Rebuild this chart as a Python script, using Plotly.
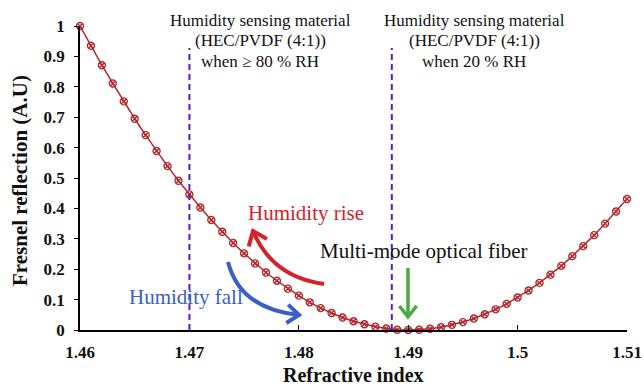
import math
import plotly.graph_objects as go

# ---- data ----
refractive_index = [round(1.460 + 0.001 * i, 3) for i in range(51)]
fresnel_reflection = [
    1.000, 0.935, 0.871, 0.811, 0.752, 0.695, 0.641, 0.589, 0.539, 0.491,
    0.446, 0.403, 0.362, 0.323, 0.286, 0.252, 0.219, 0.189, 0.162, 0.136,
    0.113, 0.091, 0.072, 0.056, 0.041, 0.029, 0.019, 0.011, 0.005, 0.001,
    0.000, 0.001, 0.004, 0.009, 0.017, 0.026, 0.038, 0.052, 0.068, 0.086,
    0.107, 0.130, 0.155, 0.182, 0.211, 0.243, 0.276, 0.312, 0.350, 0.390,
    0.431,
]
x_ticks = [1.46, 1.47, 1.48, 1.49, 1.5, 1.51]
y_ticks = [0, 0.1, 0.2, 0.3, 0.4, 0.5, 0.6, 0.7, 0.8, 0.9, 1]
marker_lines_x = [1.47, 1.4885]

# ---- layout geometry (pixels) ----
W, H = 644, 386
ML, MR, MT, MB = 80, 17, 26, 56
PW, PH = W - ML - MR, H - MT - MB


def px(x):
    return (x - ML) / PW


def py(y):
    return (H - MB - y) / PH


SERIF = "Liberation Serif"

fig = go.Figure()
fig.add_trace(go.Scatter(
    x=refractive_index, y=fresnel_reflection, mode="lines+markers",
    line=dict(color="#B3282D", width=1.5),
    marker=dict(symbol="circle-x-open", size=7, color="#B3282D",
                line=dict(width=1.4, color="#B3282D")),
    cliponaxis=False, showlegend=False,
))

shapes = []
for xv in marker_lines_x:
    shapes.append(dict(type="line", xref="x", yref="paper", x0=xv, x1=xv,
                       y0=0, y1=py(48), line=dict(color="#5A1FBF", width=2, dash="6px,4px")))


def curved_arrow(p0, c, tip, color, arm=15, width=4):
    dx, dy = tip[0] - c[0], tip[1] - c[1]
    L = math.hypot(dx, dy)
    bx, by = -dx / L, -dy / L
    ang = math.radians(38)
    arms = []
    for s in (1, -1):
        ca, sa = math.cos(s * ang), math.sin(s * ang)
        ax = bx * ca - by * sa
        ay = bx * sa + by * ca
        arms.append((tip[0] + ax * arm, tip[1] + ay * arm))
    body = "M {:.4f} {:.4f} Q {:.4f} {:.4f} {:.4f} {:.4f}".format(
        px(p0[0]), py(p0[1]), px(c[0]), py(c[1]), px(tip[0]), py(tip[1]))
    head = "M {:.4f} {:.4f} L {:.4f} {:.4f} L {:.4f} {:.4f}".format(
        px(arms[0][0]), py(arms[0][1]), px(tip[0]), py(tip[1]), px(arms[1][0]), py(arms[1][1]))
    return [dict(type="path", xref="paper", yref="paper", path=body, line=dict(color=color, width=width)),
            dict(type="path", xref="paper", yref="paper", path=head, line=dict(color=color, width=width))]


shapes += curved_arrow((324, 284), (272, 277), (253, 231), "#D3222A", arm=16)
shapes += curved_arrow((228, 262), (240, 309), (299, 315), "#3A5FC6", arm=15)
shapes += curved_arrow((408, 268), (408, 290), (408, 317), "#4BAA3F", arm=14, width=3.5)

annotations = []
blocks = [(260, ["Humidity sensing material", "(HEC/PVDF (4:1))", "when \u2265 80 % RH"]),
          (474, ["Humidity sensing material", "(HEC/PVDF (4:1))", "when 20 % RH"])]
for cx, lines in blocks:
    for yy, t in zip([20, 41, 61.5], lines):
        annotations.append(dict(text=t, xref="paper", yref="paper", x=px(cx), y=py(yy),
                                showarrow=False, xanchor="center", yanchor="middle",
                                font=dict(family=SERIF, size=17, color="#111111")))
annotations += [
    dict(text="Humidity rise", x=px(306), y=py(213), font=dict(family=SERIF, size=21, color="#D3222A")),
    dict(text="Humidity fall", x=px(186), y=py(297), font=dict(family=SERIF, size=21, color="#3A5FC6")),
    dict(text="Multi-mode optical fiber", x=px(424), y=py(251), font=dict(family=SERIF, size=21, color="#111111")),
    dict(text="<b>Refractive index</b>", x=px(353), y=py(375),
         font=dict(family=SERIF, size=20, color="#111111")),
    dict(text="<b>Fresnel reflection (A.U)</b>", x=px(20), y=py(181), textangle=-90,
         font=dict(family=SERIF, size=21, color="#111111")),
]
for a in annotations[6:]:
    a.update(xref="paper", yref="paper", showarrow=False, xanchor="center", yanchor="middle")

fig.update_layout(
    width=W, height=H, margin=dict(l=ML, r=MR, t=MT, b=MB, autoexpand=False),
    paper_bgcolor="white", plot_bgcolor="white",
    font=dict(family=SERIF),
    shapes=shapes, annotations=annotations,
    xaxis=dict(range=[1.46, 1.51], tickvals=x_ticks, ticktext=["<b>%g</b>" % v for v in x_ticks],
               showgrid=False, zeroline=False,
               showline=True, linecolor="black", linewidth=1.5, ticks="inside",
               ticklen=5, tickwidth=1.2, tickcolor="black", ticklabelstandoff=6,
               tickfont=dict(family=SERIF, size=17, color="#111111")),
    yaxis=dict(range=[0, 1], tickvals=y_ticks, ticktext=["<b>%g</b>" % v for v in y_ticks],
               showgrid=False, zeroline=False,
               showline=True, linecolor="black", linewidth=1.5, ticks="outside",
               ticklen=4, tickwidth=1.2, tickcolor="black", ticklabelstandoff=6,
               tickfont=dict(family=SERIF, size=17, color="#111111")),
)
fig.write_html("out.html")
